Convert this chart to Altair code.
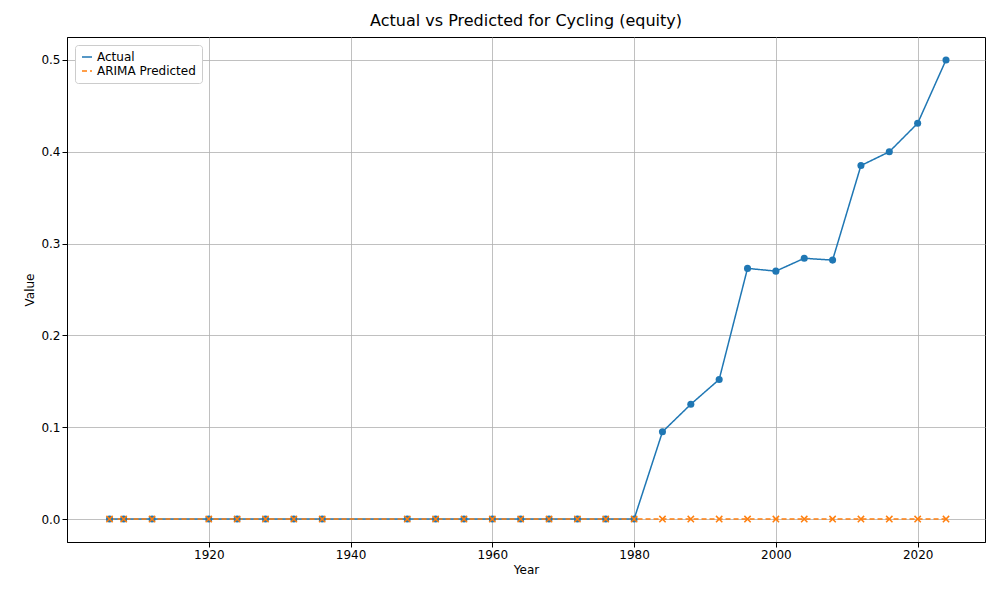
import altair as alt
import pandas as pd

years = [1906, 1908, 1912, 1920, 1924, 1928, 1932, 1936, 1948, 1952, 1956, 1960,
         1964, 1968, 1972, 1976, 1980, 1984, 1988, 1992, 1996, 2000, 2004, 2008,
         2012, 2016, 2020, 2024]
actual = [0.0] * 17 + [0.095, 0.125, 0.152, 0.273, 0.270, 0.284, 0.282,
                       0.385, 0.400, 0.431, 0.500]
predicted = [0.0] * 28

df = pd.concat([
    pd.DataFrame({"Year": years, "Value": actual, "series": "Actual"}),
    pd.DataFrame({"Year": years, "Value": predicted, "series": "ARIMA Predicted"}),
])

order = ["Actual", "ARIMA Predicted"]
color = alt.Color("series:N", sort=order,
                  scale=alt.Scale(domain=order, range=["#1f77b4", "#ff7f0e"]),
                  legend=alt.Legend(title=None, orient="none", legendX=8, legendY=8,
                                    symbolType="stroke", symbolStrokeWidth=1.5,
                                    fillColor="white", strokeColor="#cccccc",
                                    padding=6, cornerRadius=3,
                                    labelFontSize=12, labelFont="DejaVu Sans"))
dash = alt.StrokeDash("series:N", sort=order,
                      scale=alt.Scale(domain=order, range=[[1, 0], [5, 3]]),
                      legend=None)

x = alt.X("Year:Q", scale=alt.Scale(domain=[1900.0, 2029.5], nice=False, zero=False),
          axis=alt.Axis(values=[1920, 1940, 1960, 1980, 2000, 2020], format="d",
                        title="Year"))
y = alt.Y("Value:Q", scale=alt.Scale(domain=[-0.025, 0.525], nice=False),
          axis=alt.Axis(values=[0, 0.1, 0.2, 0.3, 0.4, 0.5], format=".1f",
                        title="Value"))

base = alt.Chart(df).encode(x=x, y=y, color=color)
lines = base.mark_line(strokeWidth=1.5).encode(strokeDash=dash)
pts_a = base.transform_filter("datum.series == 'Actual'").mark_circle(size=50, opacity=1)
pts_p = base.transform_filter("datum.series == 'ARIMA Predicted'").mark_point(
    shape="M-1,-1L1,1M-1,1L1,-1", size=40, strokeWidth=1.5, filled=False, opacity=1)

chart = (lines + pts_a + pts_p).properties(
    width=918, height=505,
    title=alt.TitleParams("Actual vs Predicted for Cycling (equity)", fontSize=16,
                          fontWeight="normal", font="DejaVu Sans", offset=8),
    autosize=alt.AutoSizeParams(type="none"),
    padding={"left": 59, "top": 29, "right": 7, "bottom": 50},
).configure_axis(
    grid=True, gridColor="#b0b0b0", gridWidth=0.8, domainColor="black",
    tickColor="black", labelColor="black", labelFontSize=12, titleFontSize=12,
    labelFont="DejaVu Sans", titleFont="DejaVu Sans", titleFontWeight="normal",
    titleColor="black",
).configure_view(stroke="black", strokeWidth=1)

chart.save("out.html", embed_options={"renderer": "svg", "actions": False})
